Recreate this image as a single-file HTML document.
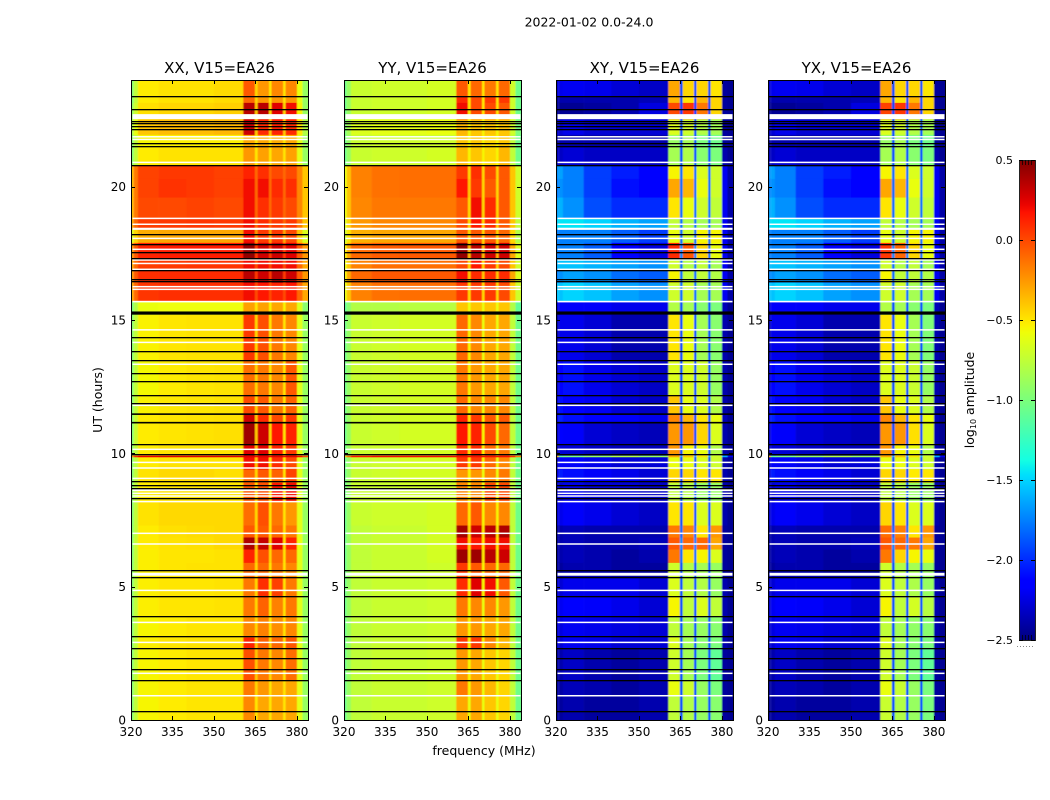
<!DOCTYPE html>
<html lang="en">
<head>
<meta charset="utf-8">
<title>2022-01-02 0.0-24.0</title>
<style>
html,body{margin:0;padding:0;background:#fff;width:1050px;height:800px;overflow:hidden}
svg{display:block}
text{font-family:"DejaVu Sans","Liberation Sans",sans-serif;fill:#000}
</style>
</head>
<body>
<svg id="figure" xmlns="http://www.w3.org/2000/svg" width="1050" height="800" viewBox="0 0 1050 800">
<defs>
<filter id="soften" x="-2%" y="-1%" width="104%" height="102%"><feGaussianBlur stdDeviation="0.45 0.35"/></filter>
<linearGradient id="jet-gradient" x1="0" y1="1" x2="0" y2="0"></linearGradient>
</defs>
<text x="589" y="26.5" font-size="12.5" text-anchor="middle">2022-01-02 0.0-24.0</text>
<text transform="translate(102,400) rotate(-90)" font-size="12.5" text-anchor="middle">UT (hours)</text>
<text x="484" y="755" font-size="12.5" text-anchor="middle">frequency (MHz)</text>
<text transform="translate(974,400) rotate(-90)" font-size="12.5" text-anchor="middle">log<tspan font-size="8" dy="2">10</tspan><tspan dy="-2"> amplitude</tspan></text>
<g id="panels"></g>
<g id="colorbar"></g>
</svg>
<script>
const utEdges = [0,.9,1.5,2.7,3.1,3.9,4.6,5.35,5.9,6.4,6.85,7.3,8.2,8.9,9.4,9.86,9.92,10.3,11.15,11.5,12.2,13.5,15.2,15.7,16.4,16.9,17.3,17.9,18.4,18.8,19.6,20.3,20.8,21.5,21.95,22.53,23.15,23.4,24];
const freqEdges = [320,321,322.5,330,340,350,360.6,364.8,365.8,369.9,370.8,375,375.9,380,382,384];
const freqTicks = [320,335,350,365,380];
const utTicks = [0,5,10,15,20];
const colorbarTicks = [-2.5,-2,-1.5,-1,-.5,0,.5];
const panelTitles = ["XX, V15=EA26","YY, V15=EA26","XY, V15=EA26","YX, V15=EA26"];
const whiteLines = [.91,1.75,2.91,3.66,4.86,6.6,7,8.19,8.4,8.5,9.06,9.45,9.66,10.15,11.8,13.34,14.16,14.63,16.15,16.25,16.9,17.12,17.25,17.65,18.06,18.59,18.81,20.91,21.77,21.87];
const blackLines = [.33,1.51,1.9,2.31,2.69,3.14,3.89,4.64,5.35,5.61,8.31,8.71,8.83,8.97,9.96,10.34,11.88,12.18,12.7,13,13.51,13.82,14.35,16.47,16.54,16.88,17.31,17.54,17.85,18.21,20.8,21.51,21.62,22.15,22.29,22.37,22.46,22.9,23.4];
const whiteBands = [[5.41,5.52],[8.58,8.66],[18.38,18.46],[15.66,15.72],[22.53,22.72]];
const blackBands = [[11.12,11.18],[11.44,11.5],[15.2,15.32]];
const xxValues = [
[-.95,-.75,-.55,-.52,-.5,-.5,-.2,-.5,-.3,-.5,-.3,-.5,-.3,-.62,-.9],
[-.95,-.75,-.55,-.52,-.5,-.5,-.15,-.45,-.25,-.5,-.3,-.5,-.3,-.62,-.9],
[-.95,-.75,-.55,-.52,-.5,-.5,-.02,-.4,-.15,-.45,-.2,-.5,-.12,-.62,-.9],
[-.95,-.75,-.53,-.5,-.49,-.49,.12,-.4,-.08,-.45,-.1,-.5,-.05,-.62,-.9],
[-.95,-.75,-.55,-.52,-.5,-.5,-.2,-.45,-.18,-.5,-.22,-.5,-.2,-.62,-.9],
[-.95,-.75,-.53,-.5,-.5,-.49,-.15,-.45,-.08,-.5,-.18,-.5,-.15,-.62,-.9],
[-.95,-.75,-.53,-.5,-.5,-.49,-.15,-.45,.08,-.5,.03,-.5,-.15,-.62,-.9],
[-.95,-.75,-.53,-.5,-.49,-.49,-.1,-.45,-.1,-.5,-.15,-.5,-.2,-.62,-.9],
[-.95,-.75,-.53,-.5,-.5,-.49,.12,-.4,-.02,-.45,-.1,-.5,-.1,-.62,-.9],
[-.95,-.72,-.52,-.49,-.48,-.46,.38,-.4,.32,-.45,.25,-.5,.12,-.6,-.9],
[-.95,-.75,-.52,-.48,-.47,-.46,-.05,-.45,-.05,-.5,-.1,-.5,-.15,-.62,-.9],
[-.95,-.75,-.49,-.46,-.46,-.46,-.12,-.45,-.02,-.5,-.15,-.5,-.25,-.62,-.9],
[-.95,-.75,-.52,-.49,-.49,-.49,-.05,-.45,-.02,-.5,.15,-.5,.2,-.62,-.9],
[-.95,-.75,-.49,-.46,-.46,-.48,-.1,-.45,-.05,-.5,-.08,-.5,.02,-.62,-.9],
[-.95,-.75,-.52,-.49,-.49,-.49,.2,-.4,.2,-.5,.1,-.5,0,-.62,-.9],
[-.2,.1,.22,.25,.25,.25,.25,.2,.25,.2,.25,.2,.25,.2,0],
[-.95,-.75,-.52,-.49,-.49,-.49,.25,-.4,.25,-.5,.12,-.5,.05,-.62,-.9],
[-.95,-.72,-.52,-.5,-.49,-.48,.42,-.4,.3,-.45,.15,-.5,.12,-.62,-.9],
[-.95,-.72,-.52,-.5,-.49,-.48,.3,-.4,.1,-.45,0,-.5,.05,-.62,-.9],
[-.95,-.75,-.54,-.51,-.5,-.49,0,-.45,-.05,-.5,-.15,-.5,-.08,-.62,-.9],
[-.95,-.75,-.56,-.52,-.5,-.49,-.12,-.45,-.15,-.5,-.2,-.5,-.05,-.62,-.9],
[-.95,-.75,-.54,-.5,-.49,-.49,.05,-.45,-.02,-.5,-.15,-.5,-.2,-.62,-.9],
[-1,-.8,-.6,-.58,-.58,-.58,-.28,-.5,-.28,-.55,-.3,-.55,-.3,-.65,-.95],
[-.3,-.1,.06,.08,.08,.08,.2,0,.15,0,.12,0,.15,-.1,-.3],
[-.25,-.05,.08,.1,.1,.1,.35,.05,.3,.05,.35,.05,.3,-.05,-.25],
[-.3,-.1,.04,.05,.06,.06,.2,0,.2,0,.2,0,.2,-.1,-.3],
[-.25,-.05,.12,.14,.14,.14,.45,.05,.3,.05,.3,.05,.25,-.05,-.25],
[-.65,-.45,-.32,-.3,-.3,-.3,.2,-.25,.05,-.3,.05,-.3,0,-.4,-.65],
[-.3,-.1,.04,.05,.06,.05,.2,-.1,.1,-.1,.05,-.1,.05,-.15,-.4],
[-.35,-.15,.0,.0,.02,.0,.2,-.1,.08,-.1,.05,-.1,0,-.2,-.4],
[-.35,-.15,.02,.07,.05,.03,.2,-.1,.2,-.1,.1,-.1,.08,-.2,-.4],
[-.35,-.15,.02,.05,.05,.03,.12,-.1,.08,-.1,0,-.1,0,-.2,-.4],
[-.95,-.75,-.52,-.49,-.49,-.49,-.25,-.5,-.28,-.5,-.3,-.5,-.28,-.62,-.9],
[-.95,-.75,-.55,-.53,-.53,-.53,-.3,-.5,-.3,-.5,-.32,-.5,-.3,-.62,-.9],
[-.8,-.6,-.4,-.37,-.37,-.35,.3,-.4,.1,-.4,.12,-.4,.1,-.5,-.8],
[-.9,-.7,-.48,-.45,-.45,-.43,.35,-.4,.35,-.45,.25,-.45,.2,-.55,-.9],
[-.95,-.75,-.52,-.49,-.49,-.47,-.1,-.45,-.25,-.5,-.25,-.5,-.25,-.6,-.9],
[-.95,-.75,-.52,-.49,-.49,-.47,-.05,-.45,-.25,-.5,-.2,-.5,-.2,-.6,-.9]
];
const yyValues = [
[-1.05,-.9,-.75,-.72,-.72,-.7,-.3,-.6,-.3,-.6,-.4,-.6,-.45,-.75,-1.05],
[-1.05,-.9,-.75,-.72,-.72,-.7,-.15,-.55,-.25,-.6,-.35,-.6,-.45,-.75,-1.05],
[-1.05,-.9,-.75,-.72,-.72,-.7,-.25,-.55,-.3,-.6,-.4,-.6,-.45,-.75,-1.05],
[-1.05,-.9,-.75,-.72,-.72,-.7,.05,-.55,.05,-.55,-.2,-.6,-.35,-.75,-1.05],
[-1.05,-.9,-.75,-.72,-.72,-.7,-.25,-.55,-.25,-.6,-.3,-.6,-.3,-.75,-1.05],
[-1.05,-.9,-.75,-.72,-.72,-.7,-.15,-.55,-.2,-.6,-.2,-.6,-.25,-.75,-1.05],
[-1.05,-.9,-.75,-.72,-.72,-.7,.1,-.5,.25,-.55,.2,-.6,-.05,-.75,-1.05],
[-1.05,-.9,-.75,-.72,-.72,-.7,.05,-.5,-.05,-.55,-.1,-.6,-.1,-.75,-1.05],
[-1.05,-.9,-.75,-.72,-.72,-.68,.42,-.45,.42,-.5,.35,-.5,.3,-.75,-1.05],
[-1.05,-.9,-.75,-.72,-.72,-.68,.2,-.45,.15,-.5,.2,-.5,.2,-.75,-1.05],
[-1.05,-.9,-.75,-.72,-.72,-.68,.4,-.45,.3,-.5,.35,-.5,.38,-.75,-1.05],
[-1.05,-.9,-.72,-.7,-.7,-.68,-.1,-.5,-.05,-.55,-.2,-.55,-.2,-.75,-1.05],
[-1.05,-.9,-.72,-.72,-.7,-.7,-.2,-.55,-.2,-.6,0,-.6,0,-.75,-1.05],
[-1.05,-.9,-.72,-.7,-.68,-.68,-.25,-.55,-.25,-.6,-.2,-.6,-.15,-.75,-1.05],
[-1.05,-.9,-.72,-.7,-.68,-.68,.05,-.5,.05,-.55,-.1,-.6,-.2,-.75,-1.05],
[-.4,-.1,.15,.2,.2,.2,.2,.2,.2,.2,.2,.2,.2,.1,-.2],
[-1.05,-.9,-.72,-.7,-.68,-.68,.1,-.5,.1,-.55,-.1,-.6,-.15,-.75,-1.05],
[-1.05,-.9,-.72,-.7,-.68,-.68,.15,-.5,.12,-.55,0,-.6,-.1,-.75,-1.05],
[-1.05,-.9,-.72,-.7,-.68,-.68,.12,-.5,.05,-.55,-.05,-.6,-.05,-.75,-1.05],
[-1.05,-.9,-.72,-.7,-.68,-.68,-.1,-.55,-.2,-.6,-.2,-.6,-.2,-.75,-1.05],
[-1.05,-.9,-.72,-.7,-.68,-.68,-.15,-.55,-.25,-.6,-.3,-.6,-.3,-.75,-1.05],
[-1.05,-.9,-.72,-.7,-.68,-.68,-.1,-.55,-.2,-.6,-.3,-.6,-.3,-.75,-1.05],
[-1.1,-.95,-.8,-.8,-.78,-.78,-.4,-.6,-.4,-.6,-.4,-.6,-.4,-.8,-1.1],
[-.6,-.4,-.18,-.13,-.12,-.12,.05,-.45,.05,-.45,.05,-.45,0,-.4,-.7],
[-.55,-.3,-.1,-.05,-.05,-.05,.2,-.4,.1,-.4,.1,-.4,.1,-.3,-.65],
[-.6,-.4,-.18,-.12,-.12,-.12,0,-.45,.15,-.45,.05,-.45,0,-.4,-.7],
[-.55,-.3,-.1,-.06,-.05,-.05,.45,-.35,.35,-.35,.3,-.35,.3,-.3,-.65],
[-.7,-.5,-.33,-.3,-.3,-.3,-.05,-.45,-.05,-.45,-.05,-.45,-.1,-.45,-.8],
[-.65,-.45,-.25,-.2,-.2,-.2,0,-.45,.15,-.45,.1,-.45,-.05,-.4,-.75],
[-.6,-.4,-.2,-.15,-.15,-.15,-.05,-.45,.2,-.45,.1,-.45,-.05,-.4,-.7],
[-.6,-.4,-.18,-.13,-.12,-.12,.15,-.4,.05,-.45,-.05,-.45,-.05,-.4,-.7],
[-.6,-.4,-.18,-.13,-.12,-.12,.05,-.45,.08,-.45,0,-.45,-.05,-.4,-.7],
[-1.05,-.9,-.72,-.7,-.7,-.68,-.35,-.55,-.4,-.55,-.45,-.55,-.35,-.75,-1.05],
[-1.05,-.9,-.72,-.7,-.7,-.7,-.4,-.55,-.4,-.55,-.45,-.55,-.4,-.75,-1.05],
[-1,-.85,-.65,-.62,-.62,-.6,-.35,-.55,-.4,-.55,-.4,-.55,-.4,-.7,-1],
[-1.05,-.9,-.72,-.7,-.7,-.68,.2,-.5,0,-.5,0,-.5,-.05,-.7,-1.05],
[-1.05,-.9,-.72,-.7,-.7,-.68,.1,-.5,0,-.5,.05,-.5,.05,-.7,-1.05],
[-1.05,-.9,-.72,-.7,-.7,-.68,-.05,-.5,-.1,-.5,-.15,-.5,-.1,-.7,-1.05]
];
const xyValues = [
[-2.42,-2.42,-2.38,-2.42,-2.42,-2.38,-.75,-1.9,-.8,-1.9,-.9,-1.9,-.95,-2.42,-2.45],
[-2.42,-2.4,-2.35,-2.38,-2.42,-2.38,-.6,-1.9,-.7,-1.9,-.9,-1.9,-1,-2.42,-2.45],
[-2.42,-2.38,-2.32,-2.38,-2.42,-2.38,-.7,-1.9,-.85,-1.9,-1,-1.9,-1.1,-2.42,-2.45],
[-2.3,-2.28,-2.2,-2.22,-2.28,-2.28,-.65,-1.9,-.85,-1.9,-.95,-1.9,-1,-2.38,-2.45],
[-2.3,-2.25,-2.2,-2.22,-2.25,-2.28,-.75,-1.9,-.85,-1.9,-.9,-1.9,-.95,-2.38,-2.45],
[-2.3,-2.2,-2.12,-2.18,-2.22,-2.28,-.55,-1.9,-.75,-1.9,-.65,-1.9,-.75,-2.38,-2.45],
[-2.3,-2.28,-2.22,-2.22,-2.22,-2.28,-.65,-1.9,-.75,-1.9,-.8,-1.9,-.9,-2.38,-2.45],
[-2.42,-2.42,-2.38,-2.38,-2.42,-2.42,-.7,-1.9,-.8,-1.9,-.85,-1.9,-.9,-2.42,-2.45],
[-2.42,-2.38,-2.35,-2.38,-2.42,-2.38,-.15,-1.8,-.5,-1.8,-.55,-1.8,-.65,-2.42,-2.45],
[-2.42,-2.38,-2.35,-2.38,-2.38,-2.35,-.05,-1.7,-.1,-1.7,-.1,-1.8,-.3,-2.42,-2.45],
[-2.42,-2.38,-2.35,-2.38,-2.38,-2.38,-.15,-1.8,-.2,-1.8,-.5,-1.8,-.25,-2.42,-2.45],
[-2.3,-2.22,-2.18,-2.22,-2.28,-2.32,-.5,-1.9,-.5,-1.9,-.65,-1.9,-.65,-2.38,-2.45],
[-2.3,-2.28,-2.22,-2.28,-2.28,-2.32,-.75,-1.9,-.8,-1.9,-.9,-1.9,-.9,-2.38,-2.45],
[-2.28,-2.05,-2.08,-2.18,-2.22,-2.28,-.45,-1.9,-.45,-1.9,-.5,-1.9,-.5,-2.38,-2.45],
[-2.32,-2.18,-2.18,-2.22,-2.28,-2.28,-.6,-1.9,-.6,-1.9,-.65,-1.9,-.7,-2.38,-2.45],
[-.3,-1.1,-1,-.9,-.8,-.9,-.3,-1.6,-.4,-1.6,-.5,-1.6,-.7,-1.6,-2.2],
[-2.38,-2.28,-2.28,-2.32,-2.35,-2.35,-.25,-1.9,-.55,-1.9,-.6,-1.9,-.8,-2.38,-2.45],
[-2.32,-2.12,-2.18,-2.28,-2.32,-2.35,-.25,-1.9,-.25,-1.9,-.45,-1.9,-.65,-2.38,-2.45],
[-2.22,-2.02,-2.08,-2.12,-2.18,-2.22,-.2,-1.9,-.35,-1.9,-.5,-1.9,-.6,-2.35,-2.45],
[-2.28,-2.08,-2.12,-2.2,-2.28,-2.32,-.4,-1.9,-.6,-1.9,-.65,-1.9,-.8,-2.38,-2.45],
[-2.32,-2.12,-2.1,-2.22,-2.28,-2.32,-.65,-1.9,-.65,-1.9,-.7,-1.9,-.9,-2.38,-2.45],
[-2.38,-2.22,-2.22,-2.28,-2.38,-2.38,-.5,-1.9,-.6,-1.9,-.85,-1.9,-.95,-2.38,-2.45],
[-2.28,-2.18,-2.18,-2.18,-2.22,-2.22,-.8,-1.9,-.85,-1.9,-.95,-1.9,-1,-2.35,-2.45],
[-1.55,-1.55,-1.5,-1.55,-1.65,-1.7,-.7,-1.8,-.7,-1.8,-.85,-1.8,-.85,-2.2,-2.4],
[-1.75,-1.7,-1.65,-1.7,-1.8,-1.85,-.55,-1.8,-.75,-1.8,-.75,-1.8,-.8,-2.2,-2.4],
[-1.6,-1.55,-1.55,-1.6,-1.65,-1.7,-.7,-1.8,-.8,-1.8,-.75,-1.8,-.85,-2.2,-2.4],
[-1.75,-1.75,-1.75,-1.85,-2.15,-2.25,.1,-1.7,-.05,-1.7,-.45,-1.8,-.6,-2.2,-2.4],
[-1.75,-1.75,-1.75,-1.75,-1.85,-1.95,-.6,-1.8,-.7,-1.8,-.55,-1.8,-.55,-2.2,-2.4],
[-1.5,-1.45,-1.45,-1.5,-1.6,-1.65,-.75,-1.8,-.8,-1.8,-.85,-1.8,-.85,-2.2,-2.4],
[-1.65,-1.6,-1.7,-1.9,-2,-2,-.5,-1.8,-.6,-1.8,-.7,-1.8,-.75,-2.2,-2.4],
[-1.75,-1.7,-1.75,-1.95,-2.1,-2.15,-.3,-1.8,-.35,-1.8,-.6,-1.8,-.7,-2.2,-2.4],
[-1.7,-1.65,-1.75,-1.95,-2.05,-2.15,-.55,-1.8,-.5,-1.8,-.65,-1.8,-.7,-2.2,-2.4],
[-2.35,-2.32,-2.28,-2.32,-2.32,-2.32,-.85,-1.9,-.8,-1.9,-.95,-1.9,-1,-2.38,-2.45],
[-2.42,-2.38,-2.38,-2.38,-2.38,-2.38,-.9,-1.9,-.85,-1.9,-1,-1.9,-1.05,-2.42,-2.45],
[-2.32,-2.28,-2.22,-2.28,-2.28,-2.28,-.65,-1.9,-.7,-1.9,-.8,-1.9,-.85,-2.42,-2.45],
[-2.45,-2.45,-2.45,-2.42,-2.38,-2.25,0,-1.9,.05,-1.9,-.15,-1.9,-.45,-2.42,-2.45],
[-2.42,-2.38,-2.38,-2.38,-2.38,-2.35,-.35,-1.9,-.5,-1.9,-.35,-1.9,-.45,-2.42,-2.45],
[-2.28,-2.22,-2.2,-2.22,-2.28,-2.32,-.3,-1.9,-.45,-1.9,-.45,-1.9,-.5,-2.42,-2.45]
];
const yxValues = [
[-2.42,-2.42,-2.38,-2.42,-2.42,-2.38,-.72,-1.9,-.8,-1.9,-.9,-1.9,-1,-2.42,-2.45],
[-2.42,-2.4,-2.35,-2.38,-2.42,-2.38,-.6,-1.9,-.72,-1.9,-.9,-1.9,-1,-2.42,-2.45],
[-2.42,-2.38,-2.32,-2.38,-2.42,-2.38,-.7,-1.9,-.85,-1.9,-1,-1.9,-1.1,-2.42,-2.45],
[-2.3,-2.28,-2.2,-2.22,-2.28,-2.28,-.65,-1.9,-.85,-1.9,-.95,-1.9,-1,-2.38,-2.45],
[-2.3,-2.25,-2.2,-2.22,-2.25,-2.28,-.75,-1.9,-.85,-1.9,-.92,-1.9,-.95,-2.38,-2.45],
[-2.3,-2.2,-2.12,-2.18,-2.22,-2.28,-.55,-1.9,-.75,-1.9,-.68,-1.9,-.78,-2.38,-2.45],
[-2.3,-2.28,-2.22,-2.22,-2.22,-2.28,-.65,-1.9,-.75,-1.9,-.82,-1.9,-.9,-2.38,-2.45],
[-2.42,-2.42,-2.38,-2.38,-2.42,-2.42,-.7,-1.9,-.8,-1.9,-.85,-1.9,-.9,-2.42,-2.45],
[-2.42,-2.38,-2.35,-2.38,-2.42,-2.38,-.15,-1.8,-.45,-1.8,-.55,-1.8,-.6,-2.42,-2.45],
[-2.42,-2.38,-2.35,-2.38,-2.38,-2.35,-.05,-1.7,-.1,-1.7,-.15,-1.8,-.3,-2.42,-2.45],
[-2.42,-2.38,-2.35,-2.38,-2.38,-2.38,-.12,-1.8,-.18,-1.8,-.5,-1.8,-.25,-2.42,-2.45],
[-2.3,-2.22,-2.18,-2.22,-2.28,-2.32,-.45,-1.9,-.5,-1.9,-.65,-1.9,-.65,-2.38,-2.45],
[-2.3,-2.28,-2.22,-2.28,-2.28,-2.32,-.75,-1.9,-.8,-1.9,-.9,-1.9,-.9,-2.38,-2.45],
[-2.28,-2.05,-2.08,-2.18,-2.22,-2.28,-.45,-1.9,-.45,-1.9,-.52,-1.9,-.5,-2.38,-2.45],
[-2.32,-2.18,-2.18,-2.22,-2.28,-2.28,-.6,-1.9,-.6,-1.9,-.65,-1.9,-.7,-2.38,-2.45],
[-.3,-1.1,-1,-.9,-.8,-.9,-.3,-1.6,-.4,-1.6,-.5,-1.6,-.7,-1.6,-2.2],
[-2.38,-2.28,-2.28,-2.32,-2.35,-2.35,-.25,-1.9,-.55,-1.9,-.6,-1.9,-.8,-2.38,-2.45],
[-2.32,-2.12,-2.18,-2.28,-2.32,-2.35,-.25,-1.9,-.25,-1.9,-.48,-1.9,-.65,-2.38,-2.45],
[-2.22,-2.02,-2.08,-2.12,-2.18,-2.22,-.2,-1.9,-.35,-1.9,-.5,-1.9,-.6,-2.35,-2.45],
[-2.28,-2.08,-2.12,-2.2,-2.28,-2.32,-.4,-1.9,-.6,-1.9,-.65,-1.9,-.8,-2.38,-2.45],
[-2.32,-2.12,-2.1,-2.22,-2.28,-2.32,-.65,-1.9,-.65,-1.9,-.72,-1.9,-.9,-2.38,-2.45],
[-2.38,-2.22,-2.22,-2.28,-2.38,-2.38,-.5,-1.9,-.6,-1.9,-.85,-1.9,-.98,-2.38,-2.45],
[-2.28,-2.18,-2.18,-2.18,-2.22,-2.22,-.8,-1.9,-.85,-1.9,-.95,-1.9,-1,-2.35,-2.45],
[-1.55,-1.55,-1.5,-1.55,-1.65,-1.7,-.7,-1.8,-.7,-1.8,-.85,-1.8,-.85,-2.2,-2.4],
[-1.75,-1.7,-1.65,-1.7,-1.8,-1.85,-.55,-1.8,-.75,-1.8,-.75,-1.8,-.8,-2.2,-2.4],
[-1.6,-1.55,-1.55,-1.6,-1.65,-1.7,-.7,-1.8,-.8,-1.8,-.75,-1.8,-.85,-2.2,-2.4],
[-1.75,-1.75,-1.75,-1.85,-2.15,-2.25,.05,-1.7,-.1,-1.7,-.45,-1.8,-.6,-2.2,-2.4],
[-1.75,-1.75,-1.75,-1.75,-1.85,-1.95,-.6,-1.8,-.7,-1.8,-.55,-1.8,-.55,-2.2,-2.4],
[-1.5,-1.45,-1.45,-1.5,-1.6,-1.65,-.75,-1.8,-.8,-1.8,-.85,-1.8,-.85,-2.2,-2.4],
[-1.65,-1.6,-1.7,-1.9,-2,-2,-.5,-1.8,-.6,-1.8,-.7,-1.8,-.75,-2.2,-2.4],
[-1.75,-1.7,-1.75,-1.95,-2.1,-2.15,-.3,-1.8,-.35,-1.8,-.6,-1.8,-.7,-2.2,-2.4],
[-1.7,-1.65,-1.75,-1.95,-2.05,-2.15,-.55,-1.8,-.5,-1.8,-.65,-1.8,-.7,-2.2,-2.4],
[-2.35,-2.32,-2.28,-2.32,-2.32,-2.32,-.85,-1.9,-.8,-1.9,-.95,-1.9,-1,-2.38,-2.45],
[-2.42,-2.38,-2.38,-2.38,-2.38,-2.38,-.9,-1.9,-.85,-1.9,-1,-1.9,-1.05,-2.42,-2.45],
[-2.32,-2.28,-2.22,-2.28,-2.28,-2.28,-.65,-1.9,-.7,-1.9,-.8,-1.9,-.85,-2.42,-2.45],
[-2.45,-2.45,-2.45,-2.42,-2.38,-2.25,.02,-1.9,.05,-1.9,-.15,-1.9,-.45,-2.42,-2.45],
[-2.42,-2.38,-2.38,-2.38,-2.38,-2.35,-.35,-1.9,-.5,-1.9,-.35,-1.9,-.45,-2.42,-2.45],
[-2.28,-2.22,-2.2,-2.22,-2.28,-2.32,-.3,-1.9,-.45,-1.9,-.45,-1.9,-.5,-2.42,-2.45]
];
const panelMatrices = [xxValues, yyValues, xyValues, yxValues];

const NS = "http://www.w3.org/2000/svg";
const panelLefts = [131, 344, 556, 768];
const PANEL_W = 177, TOP = 80, BOTTOM = 720;
const xScale = (f, left) => left + (f - 320) * PANEL_W / 64;
const yScale = t => BOTTOM - t * (BOTTOM - TOP) / 24;
function interp(pts, f) {
  for (let i = 1; i < pts.length; i++) {
    if (f <= pts[i][0]) {
      const a = pts[i - 1], b = pts[i];
      return a[1] + (b[1] - a[1]) * (f - a[0]) / (b[0] - a[0]);
    }
  }
  return pts[pts.length - 1][1];
}
const jetR = [[0,0],[.35,0],[.66,1],[.89,1],[1,.5]];
const jetG = [[0,0],[.125,0],[.375,1],[.64,1],[.91,0],[1,0]];
const jetB = [[0,.5],[.11,1],[.34,1],[.65,0],[1,0]];
function jet(f) {
  f = Math.max(0, Math.min(1, f));
  const c = p => Math.round(255 * interp(p, f));
  return "rgb(" + c(jetR) + "," + c(jetG) + "," + c(jetB) + ")";
}
const colorOf = v => jet((v + 2.5) / 3);
function el(tag, attrs, parent) {
  const n = document.createElementNS(NS, tag);
  for (const k in attrs) n.setAttribute(k, attrs[k]);
  parent.appendChild(n);
  return n;
}

const panelsRoot = document.getElementById("panels");
panelTitles.forEach((title, p) => {
  const left = panelLefts[p];
  const g = el("g", {}, panelsRoot);
  
  

  const clip = el("clipPath", { id: "clip" + p }, g);
  el("rect", { x: left, y: TOP, width: PANEL_W, height: BOTTOM - TOP }, clip);
  const clipGroup = el("g", { "clip-path": "url(#clip" + p + ")" }, g);
  const heat = el("g", { filter: "url(#soften)" }, clipGroup);
  
  
  const matrix = panelMatrices[p];
  matrix.forEach((row, r) => {
    row.forEach((v, c) => {
      const x0 = xScale(freqEdges[c], left), x1 = xScale(freqEdges[c + 1], left);
      const y0 = yScale(utEdges[r + 1]), y1 = yScale(utEdges[r]);
      const cell = el("rect", { x: x0 - (c === 0 ? 3 : 0), y: y0 - .2, width: x1 - x0 + (c === 0 || c === row.length - 1 ? 3 : .3), height: y1 - y0 + .4, fill: colorOf(v) }, heat);
      
      
    });
  });

  const flagX = left + 1.5, flagW = PANEL_W - 2;
  whiteLines.forEach(t => {
    const line = el("rect", { x: flagX, y: yScale(t) - .75, width: flagW, height: 1.5, fill: "#fff" }, g);
    
    
  });
  whiteBands.forEach(b => {
    const band = el("rect", { x: flagX, y: yScale(b[1]), width: flagW, height: yScale(b[0]) - yScale(b[1]), fill: "#fff" }, g);
    
    
  });
  blackLines.forEach(t => {
    const line = el("rect", { x: left, y: Math.round(yScale(t)), width: PANEL_W, height: 1.3, fill: "#000" }, g);
    
    
  });
  blackBands.forEach(b => {
    const band = el("rect", { x: left, y: yScale(b[1]), width: PANEL_W, height: yScale(b[0]) - yScale(b[1]), fill: "#000" }, g);
    
    
  });

  const frame = el("rect", { x: left + .5, y: TOP + .5, width: PANEL_W, height: BOTTOM - TOP, fill: "none", stroke: "#000", "stroke-width": 1, "shape-rendering": "crispEdges" }, g);
  
  

  freqTicks.forEach(f => {
    const x = Math.round(xScale(f, left)) + .5;
    const t1 = el("path", { d: "M" + x + " " + BOTTOM + "v-4M" + x + " " + TOP + "v4", stroke: "#000", fill: "none" }, g);
    
    
    const lab = el("text", { x: xScale(f, left), y: 736, "font-size": 12, "text-anchor": "middle" }, g);
    lab.textContent = f;
    
    
  });
  utTicks.forEach(t => {
    const y = Math.round(yScale(t)) + .5;
    const t1 = el("path", { d: "M" + left + " " + y + "h4M" + (left + PANEL_W) + " " + y + "h-4", stroke: "#000", fill: "none" }, g);
    
    
    const lab = el("text", { x: left - 5, y: yScale(t) + 4.5, "font-size": 12, "text-anchor": "end" }, g);
    lab.textContent = t;
    
    
  });
  const ttl = el("text", { x: left + PANEL_W / 2, y: 73, "font-size": 15, "text-anchor": "middle" }, g);
  ttl.textContent = title;
  
  
});

const grad = document.getElementById("jet-gradient");
for (let i = 0; i <= 64; i++) {
  el("stop", { offset: i / 64, "stop-color": jet(i / 64) }, grad);
}
const cb = document.getElementById("colorbar");
const CB_X = 1019, CB_W = 16, CB_TOP = 160, CB_BOT = 640;
const cbY = v => CB_BOT - (v + 2.5) / 3 * (CB_BOT - CB_TOP);
const cbBar = el("rect", { x: CB_X, y: CB_TOP, width: CB_W, height: CB_BOT - CB_TOP, fill: "url(#jet-gradient)" }, cb);


const cbFrame = el("rect", { x: CB_X + .5, y: CB_TOP + .5, width: CB_W, height: CB_BOT - CB_TOP, fill: "none", stroke: "#222" }, cb);


colorbarTicks.forEach(v => {
  const y = Math.round(cbY(v)) + .5;
  const t = el("path", { d: "M" + CB_X + " " + y + "h4M" + (CB_X + CB_W) + " " + y + "h-4", stroke: "#000", fill: "none" }, cb);
  
  
  const lab = el("text", { x: 1013, y: cbY(v) + 4, "font-size": 11, "text-anchor": "end" }, cb);
  lab.textContent = (v < 0 ? "\u2212" : "") + Math.abs(v).toFixed(1);
  
  
});
const minorTicks = el("path", { d: "M1022.5 160v5M1025.5 160v5M1028.5 160v5M1031.5 160v5M1022.5 640v-5M1025.5 640v-5M1028.5 640v-5M1031.5 640v-5", stroke: "#000", fill: "none", "stroke-width": .7 }, cb);


const dots = el("path", { d: "M1017 646.5h18", stroke: "#888", "stroke-dasharray": "1 2", fill: "none" }, cb);


</script>
</body>
</html>
